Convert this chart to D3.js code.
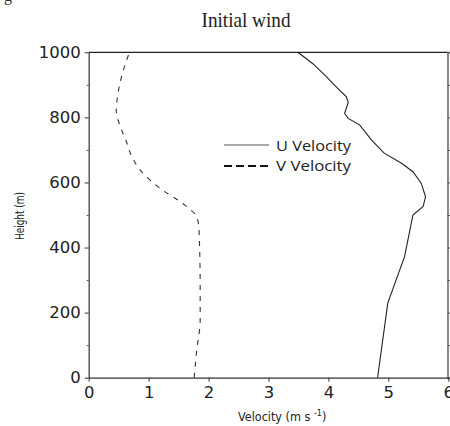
<!DOCTYPE html>
<html><head><meta charset="utf-8">
<script src="https://cdn.jsdelivr.net/npm/d3@7"></script>
<style>body{margin:0;background:#fff}svg{display:block}</style>
</head><body>
<script>
const heights = [0, 229, 372, 500, 526, 556, 597, 633, 659, 690, 730, 777, 797, 812, 846, 863, 894, 930, 965, 1000];
const uVelocity = [4.82, 4.99, 5.27, 5.41, 5.58, 5.62, 5.55, 5.41, 5.22, 4.93, 4.72, 4.52, 4.33, 4.27, 4.33, 4.30, 4.13, 3.94, 3.74, 3.49];
const vHeights = [0, 80, 177, 270, 459, 495, 531, 582, 638, 679, 730, 761, 823, 863, 946, 1000];
const vVelocity = [1.76, 1.80, 1.86, 1.86, 1.84, 1.80, 1.60, 1.19, 0.86, 0.72, 0.62, 0.55, 0.46, 0.48, 0.58, 0.68];
const xTicks = [0, 1, 2, 3, 4, 5, 6];
const yTicks = [0, 200, 400, 600, 800, 1000];
const yMinor = [100, 300, 500, 700, 900];
const seriesNames = ["U Velocity", "V Velocity"];
const title = "Initial wind";

const W = 450, H = 426;
const svg = d3.select("body").append("svg").attr("width", W).attr("height", H);
const x = d3.scaleLinear().domain([0, 6]).range([88.7, 448.3]);
const y = d3.scaleLinear().domain([0, 1000]).range([377.7, 52.3]);
const sans = "'DejaVu Sans', sans-serif";
const narrow = "'Liberation Sans Narrow', 'DejaVu Sans Condensed', sans-serif";
const fmt = d3.format("d");

// stray caption fragment
svg.append("text").attr("x", 4).attr("y", 1).attr("font-family", "'Liberation Serif', serif")
  .attr("font-size", 16).attr("fill", "#333").text("g");

// title
svg.append("text").attr("x", 246).attr("y", 27).attr("text-anchor", "middle")
  .attr("font-family", "'Liberation Serif', serif").attr("font-size", 21)
  .attr("textLength", 89).attr("lengthAdjust", "spacingAndGlyphs").attr("fill", "#222").text(title);

// top line
svg.append("line").attr("x1", x(0)).attr("x2", x(6)).attr("y1", y(1000)).attr("y2", y(1000))
  .attr("stroke", "#222").attr("stroke-width", 1.2);
// right spine
const rAxis = svg.append("g").attr("transform", `translate(${x(6)-0.8},0)`)
  .call(d3.axisRight(y).tickValues(d3.range(0, 1001, 100)).tickSize(3).tickFormat(""));
rAxis.select(".domain").attr("stroke", "#888").attr("stroke-width", 2);
rAxis.selectAll(".tick line").attr("stroke", "#555");

// left axis
const lAxis = svg.append("g").attr("transform", `translate(${x(0)},0)`)
  .call(d3.axisLeft(y).tickValues(yTicks).tickFormat(fmt).tickSize(4).tickSizeOuter(0).tickPadding(4));
lAxis.select(".domain").attr("stroke", "#333").attr("stroke-width", 1.2);
lAxis.selectAll(".tick line").attr("stroke", "#333");
lAxis.selectAll(".tick text").attr("font-family", sans).attr("font-size", 16.5).attr("fill", "#222");
svg.append("g").attr("transform", `translate(${x(0)},0)`)
  .call(d3.axisLeft(y).tickValues(yMinor).tickSize(2).tickFormat(""))
  .call(g => g.select(".domain").remove())
  .selectAll(".tick line").attr("stroke", "#555");

// bottom axis
const bAxis = svg.append("g").attr("transform", `translate(0,${y(0)})`)
  .call(d3.axisBottom(x).tickValues(xTicks).tickFormat(fmt).tickSize(4).tickSizeOuter(0).tickPadding(5));
bAxis.select(".domain").attr("stroke", "#333").attr("stroke-width", 1.2);
bAxis.selectAll(".tick line").attr("stroke", "#333");
bAxis.selectAll(".tick text").attr("font-family", sans).attr("font-size", 16.5).attr("fill", "#222");

// lines
const uLine = d3.line().x((d, i) => x(uVelocity[i])).y(d => y(d));
svg.append("path").datum(heights).attr("d", uLine).attr("fill", "none")
  .attr("stroke", "#222").attr("stroke-width", 1.1);
const vLine = d3.line().x((d, i) => x(vVelocity[i])).y(d => y(d)).curve(d3.curveMonotoneY);
svg.append("path").datum(vHeights).attr("d", vLine).attr("fill", "none")
  .attr("stroke", "#333").attr("stroke-width", 1.1).attr("stroke-dasharray", "5,6");

// legend
const lg = svg.append("g");
lg.append("line").attr("x1", 224).attr("x2", 269).attr("y1", 145).attr("y2", 145)
  .attr("stroke", "#555").attr("stroke-width", 1.2);
lg.append("line").attr("x1", 224).attr("x2", 269).attr("y1", 166).attr("y2", 166)
  .attr("stroke", "#111").attr("stroke-width", 2).attr("stroke-dasharray", "8,4");
lg.append("text").attr("x", 276).attr("y", 151).attr("font-family", "'Open Sans', sans-serif")
  .attr("font-size", 14).attr("textLength", 75).attr("lengthAdjust", "spacingAndGlyphs")
  .attr("fill", "#222").text(seriesNames[0]);
lg.append("text").attr("x", 276).attr("y", 171).attr("font-family", "'Open Sans', sans-serif")
  .attr("font-size", 14).attr("textLength", 75).attr("lengthAdjust", "spacingAndGlyphs")
  .attr("fill", "#222").text(seriesNames[1]);

// axis titles
svg.append("text").attr("transform", "translate(24,216) rotate(-90)").attr("text-anchor", "middle")
  .attr("font-family", narrow).attr("font-size", 13).attr("textLength", 48)
  .attr("lengthAdjust", "spacingAndGlyphs").attr("fill", "#222").text("Height (m)");
const xt = svg.append("text").attr("x", 238).attr("y", 421).attr("font-family", narrow)
  .attr("font-size", 12.5).attr("fill", "#222");
xt.append("tspan").text("Velocity (m s ");
xt.append("tspan").attr("dy", -5).attr("font-size", 9).text("-1");
xt.append("tspan").attr("dy", 5).text(")");
</script>
</body></html>
